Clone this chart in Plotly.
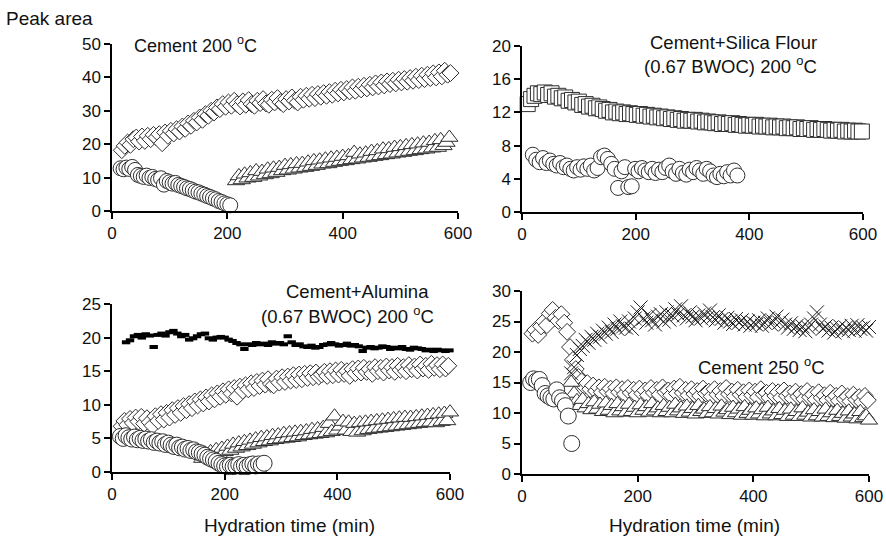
import plotly.graph_objects as go

# ---------------- data (peak areas) ----------------
# Each series: first sampling time (min), sampling interval (min), peak areas
# Panel 1: Cement 200 C
p1_dia_t0, p1_dia_dt = 17, 5
p1_dia = [18.2, 19.5, 20.5, 19.8, 21.5, 22.0, 20.8,
          22.3, 21.0, 22.5, 21.5, 22.8, 22.0, 23.0,
          20.3, 23.5, 22.5, 24.0, 23.2, 24.5, 23.8,
          25.3, 24.6, 26.2, 25.5, 27.0, 26.5, 28.0,
          27.3, 29.0, 28.5, 30.0, 29.5, 31.0, 30.5,
          32.0, 31.2, 32.5, 31.5, 33.0, 32.0, 31.3,
          32.8, 31.8, 33.2, 32.0, 31.5, 33.0, 32.3,
          33.5, 32.2, 31.8, 33.3, 32.5, 33.8, 32.6,
          32.0, 33.5, 32.8, 34.0, 33.0, 32.5, 34.2,
          33.3, 34.5, 33.6, 34.8, 33.8, 35.0, 34.2,
          35.3, 34.5, 35.6, 34.8, 36.0, 35.2, 36.3,
          35.5, 36.5, 35.8, 37.0, 36.0, 37.2, 36.4,
          37.5, 36.7, 37.8, 37.0, 38.2, 37.3, 38.5,
          37.6, 38.8, 38.0, 39.0, 38.2, 39.3, 38.5,
          39.5, 38.7, 39.8, 39.0, 40.2, 39.2, 40.5,
          39.5, 40.8, 39.8, 41.2, 40.0, 41.5, 40.3,
          42.0, 40.8, 41.3]
p1_cir_t0, p1_cir_dt = 15, 5
p1_cir = [12.8, 12.5, 13.0, 12.6, 13.2, 12.3, 10.8, 10.5, 10.2, 10.6,
          9.9, 10.2, 9.6, 9.3, 9.8, 7.9, 9.0, 8.6, 8.2, 8.4,
          7.8, 7.5, 7.2, 6.8, 6.6, 6.2, 5.8, 5.6, 5.2, 4.9,
          4.5, 4.2, 3.8, 3.5, 3.0, 2.7, 2.3, 2.0, 1.7]
p1_tri_t0, p1_tri_dt = 215, 5
p1_tri = [9.0, 10.5, 9.3, 11.0, 9.8, 11.4, 10.0, 12.0, 10.4, 11.8,
          10.8, 12.5, 11.1, 12.8, 11.5, 13.0, 12.0, 13.6, 12.2, 13.8,
          12.5, 14.1, 12.8, 14.2, 13.0, 14.6, 13.3, 15.0, 13.6, 15.2,
          14.0, 15.5, 14.1, 15.8, 14.5, 16.0, 14.8, 16.3, 15.0, 16.5,
          15.3, 17.5, 15.5, 17.0, 15.8, 17.3, 16.0, 17.8, 16.3, 18.0,
          16.5, 18.5, 16.8, 18.6, 17.0, 19.0, 17.3, 19.2, 17.5, 19.5,
          17.8, 19.8, 18.0, 20.0, 18.3, 20.3, 18.5, 20.5, 18.8, 21.0,
          19.0, 21.3, 19.5, 20.5, 22.0]

# Panel 2: Cement + Silica flour
p2_sq_t0, p2_sq_dt = 10, 6
p2_sq = [13.0, 13.6, 14.0, 14.3, 14.2, 14.4, 14.1, 14.3, 13.9, 14.0,
         13.7, 13.8, 13.4, 13.5, 13.2, 13.3, 12.9, 13.0, 12.7, 12.8,
         12.5, 12.6, 12.4, 12.2, 12.3, 12.0, 12.1, 11.9, 12.0, 11.8,
         11.9, 11.8, 11.7, 11.8, 11.6, 11.7, 11.5, 11.6, 11.4, 11.5,
         11.3, 11.4, 11.2, 11.3, 11.1, 11.2, 11.0, 11.1, 11.0, 11.1,
         10.9, 11.0, 10.8, 10.9, 10.8, 10.7, 10.8, 10.6, 10.7, 10.6,
         10.7, 10.5, 10.6, 10.5, 10.4, 10.5, 10.4, 10.5, 10.3, 10.4,
         10.3, 10.4, 10.2, 10.3, 10.2, 10.3, 10.1, 10.2, 10.1, 10.2,
         10.0, 10.1, 10.0, 10.1, 9.9, 10.0, 9.9, 10.0, 9.9, 9.8,
         9.9, 9.8, 9.9, 9.7, 9.8, 9.7, 9.8, 9.7, 9.7]
p2_cir_t0, p2_cir_dt = 19, 6
p2_cir = [6.9, 6.3, 6.0, 6.5, 5.9, 6.2, 5.8, 5.6, 5.9, 5.4,
          5.6, 5.2, 5.0, 5.4, 5.1, 5.5, 5.2, 5.6, 5.0, 5.3,
          6.6, 6.8, 6.4, 5.8, 5.2, 2.9, 4.9, 5.4, 3.0, 3.1,
          5.2, 4.9, 5.3, 5.0, 4.8, 5.2, 4.7, 5.1, 4.8, 5.3,
          5.6, 4.9, 4.6, 5.2, 4.7, 4.5, 5.1, 4.8, 5.3, 5.0,
          4.6, 5.2, 4.9, 4.4, 4.2, 4.6, 4.3, 4.8, 4.4, 5.0, 4.4]

# Panel 3: Cement + Alumina
p3_bar_t0, p3_bar_dt = 25, 7
p3_bar = [19.3, 19.6, 20.2, 20.4, 20.0, 20.5, 20.3, 18.6, 20.4, 20.6,
          20.3, 20.8, 21.0, 20.6, 20.2, 20.4, 19.7, 19.9, 20.2, 20.5,
          20.6, 19.9, 19.7, 20.0, 20.1, 20.0, 19.7, 19.5, 19.2, 19.0,
          18.3, 19.0, 18.9, 19.2, 19.0, 19.1, 18.9, 19.3, 19.1, 19.2,
          19.0, 20.2, 19.3, 18.9, 19.0, 18.7, 18.6, 18.8, 18.5, 18.6,
          18.9, 19.0, 19.2, 19.0, 18.8, 18.9, 19.1, 18.8, 18.9, 18.7,
          18.0, 18.5, 18.6, 18.4, 18.5, 18.7, 18.6, 18.3, 18.5, 18.4,
          18.6, 18.3, 18.2, 18.5, 18.4, 18.3, 18.1, 18.2, 18.0, 18.2,
          18.1, 18.0, 18.1, 17.9]
p3_dia_t0, p3_dia_dt = 17, 5
p3_dia = [6.8, 7.6, 7.0, 7.9, 7.3, 8.1, 7.5, 8.2, 7.2, 8.0,
          7.4, 6.9, 8.3, 7.6, 8.6, 7.8, 8.8, 8.1, 9.2, 8.5,
          9.5, 8.8, 9.8, 9.2, 10.1, 9.5, 10.5, 9.9, 10.8, 10.2,
          11.1, 10.5, 11.4, 10.8, 11.7, 11.2, 12.0, 11.5, 12.3, 11.7,
          12.5, 11.2, 12.7, 12.1, 12.9, 12.3, 13.2, 12.5, 13.4, 12.8,
          13.6, 13.0, 13.8, 13.1, 12.9, 13.9, 13.3, 14.1, 13.4, 14.2,
          13.6, 14.4, 13.7, 14.5, 13.8, 14.6, 14.0, 14.7, 14.1, 14.8,
          14.2, 14.5, 14.9, 14.3, 15.0, 14.4, 15.1, 14.5, 15.2, 14.6,
          15.0, 14.3, 15.3, 14.7, 15.4, 14.8, 15.5, 14.9, 15.3, 14.6,
          15.6, 15.0, 15.5, 14.8, 15.7, 15.1, 15.6, 14.9, 15.8, 15.2,
          15.6, 15.0, 15.9, 15.3, 15.7, 15.1, 16.0, 15.4, 15.8, 15.2,
          16.1, 15.5, 15.9, 15.3, 16.0, 15.4, 15.8, 15.9]
p3_tri_t0, p3_tri_dt = 160, 5
p3_tri = [2.0, 2.8, 2.2, 3.0, 2.5, 3.3, 2.7, 3.5, 3.0, 3.8,
          3.2, 4.1, 3.5, 4.3, 3.7, 4.5, 3.9, 4.7, 4.1, 4.9,
          4.3, 5.1, 4.5, 5.2, 4.6, 5.4, 4.8, 5.5, 4.9, 5.7,
          5.0, 5.8, 5.1, 5.9, 5.2, 6.0, 5.4, 6.1, 5.5, 6.3,
          5.6, 6.4, 5.7, 6.6, 5.8, 7.2, 6.0, 8.3, 6.2, 6.8,
          7.5, 6.2, 7.4, 6.0, 7.2, 5.9, 7.3, 6.1, 7.4, 6.3,
          7.5, 6.4, 7.6, 6.5, 7.7, 6.6, 7.8, 6.7, 7.9, 6.8,
          8.0, 6.9, 8.1, 7.0, 8.1, 7.1, 8.2, 7.2, 8.3, 7.3,
          8.4, 7.4, 8.5, 7.3, 8.6, 7.5, 8.7, 7.6, 8.9]
p3_cir_t0, p3_cir_dt = 15, 5
p3_cir = [5.3, 5.0, 5.4, 5.1, 4.9, 5.2, 4.8, 5.0, 4.7, 4.9,
          4.6, 4.8, 4.4, 4.6, 4.3, 4.5, 4.1, 4.3, 4.0, 3.8,
          4.0, 3.6, 3.7, 3.4, 3.5, 3.2, 3.3, 3.0, 2.9, 2.7,
          2.5, 2.2, 2.0, 1.8, 1.6, 1.3, 1.1, 0.9, 0.8, 1.0,
          0.8, 0.9, 1.1, 0.8, 1.0, 0.8, 1.1, 1.2, 0.9, 1.2,
          1.0, 1.3]

# Panel 4: Cement 250 C
p4_dia_t0, p4_dia_dt = 18, 5
p4_dia = [23.0, 23.6, 22.8, 24.2, 25.0, 24.4, 26.3, 26.9, 25.6, 25.1,
          26.2, 24.8, 23.3, 20.8, 18.7, 17.2, 15.9, 15.2, 14.4, 14.9,
          13.9, 14.5, 13.6, 14.2, 13.4, 14.3, 13.5, 14.0, 13.2, 14.2,
          13.4, 13.9, 13.1, 14.1, 13.3, 13.8, 13.0, 14.0, 13.2, 13.7,
          12.9, 14.1, 13.3, 13.8, 13.0, 14.2, 13.4, 13.7, 12.9, 14.0,
          13.2, 14.3, 13.3, 13.8, 12.9, 13.9, 13.1, 13.6, 12.8, 14.0,
          13.2, 13.5, 12.7, 13.9, 13.0, 13.6, 12.8, 14.1, 13.1, 13.5,
          12.7, 13.8, 13.0, 13.4, 12.6, 13.7, 12.9, 13.5, 12.6, 13.9,
          13.0, 13.3, 12.5, 13.6, 12.8, 13.4, 12.5, 13.7, 12.8, 13.2,
          12.4, 13.5, 12.7, 13.1, 12.3, 13.6, 12.6, 13.0, 12.2, 13.4,
          12.5, 12.9, 12.1, 13.3, 12.4, 12.8, 12.0, 13.2, 12.3, 12.7,
          11.9, 13.0, 12.2, 12.6, 11.8, 12.8, 12.1, 11.9]
p4_tri_t0, p4_tri_dt = 85, 5
p4_tri = [15.0, 13.2, 12.0, 11.2, 12.2, 10.8, 11.5, 10.5, 11.8, 10.6,
          11.4, 10.2, 11.6, 10.4, 11.2, 10.0, 11.5, 10.3, 11.0, 10.1,
          11.4, 10.2, 10.9, 10.0, 11.3, 10.4, 11.0, 10.1, 11.5, 10.3,
          10.8, 10.0, 11.2, 10.2, 10.9, 10.0, 11.4, 10.3, 10.8, 9.9,
          11.1, 10.1, 10.7, 9.8, 11.2, 10.2, 10.6, 9.9, 11.0, 10.0,
          10.7, 9.8, 11.1, 10.1, 10.5, 9.7, 10.9, 10.0, 10.6, 9.6,
          11.0, 9.9, 10.4, 9.6, 10.8, 9.8, 10.5, 9.5, 10.9, 9.8,
          10.3, 9.5, 10.7, 9.7, 10.4, 9.4, 10.6, 9.6, 10.2, 9.4,
          10.8, 9.6, 10.1, 9.3, 10.5, 9.5, 10.2, 9.3, 10.6, 9.4,
          10.0, 9.2, 10.4, 9.4, 9.9, 9.1, 10.3, 9.3, 9.8, 9.0,
          10.2, 9.2, 9.5, 8.8]
p4_cir_x = [15, 20, 25, 30, 35, 40, 45, 50, 55, 60, 65, 70, 75, 80, 86]
p4_cir = [15.0, 15.6, 15.3, 15.5, 14.5, 13.2, 12.8, 12.5, 12.3, 13.8,
          12.5, 12.0, 11.2, 9.5, 5.0]
p4_x_t0, p4_x_dt = 85, 5
p4_x = [16.5, 17.5, 19.5, 20.5, 21.0, 22.0, 21.5, 22.5, 22.0, 23.0,
        22.5, 23.5, 23.0, 24.0, 23.3, 24.5, 23.8, 25.0, 24.2, 24.0,
        25.0, 23.8, 25.5, 26.5, 27.3, 25.5, 24.8, 26.0, 25.2, 24.5,
        25.8, 26.2, 25.0, 26.5, 25.3, 26.0, 27.0, 26.2, 27.5, 26.0,
        25.5, 26.5, 25.8, 25.2, 26.0, 25.5, 26.3, 25.6, 26.8, 25.7,
        25.2, 26.0, 25.4, 24.8, 25.6, 25.0, 24.6, 25.4, 24.8, 25.2,
        24.5, 25.0, 24.3, 24.8, 24.5, 25.2, 24.3, 24.8, 25.5, 24.6,
        25.0, 25.8, 24.8, 25.3, 24.5, 24.0, 24.7, 23.8, 24.3, 23.6,
        24.2, 23.4, 24.0, 24.5, 25.5, 26.5, 24.5, 23.8, 24.2, 23.5,
        24.0, 23.2, 23.8, 24.2, 23.4, 24.0, 23.6, 24.3, 23.5, 24.4,
        23.8, 24.0, 23.5, 24.1]

x_ticks = [0, 200, 400, 600]
p1_yticks = [0, 10, 20, 30, 40, 50]
p2_yticks = [0, 4, 8, 12, 16, 20]
p3_yticks = [0, 5, 10, 15, 20, 25]
p4_yticks = [0, 5, 10, 15, 20, 25, 30]


def times(t0, dt, vals):
    return [t0 + dt * i for i in range(len(vals))]


# ---------------- figure ----------------
W, H = 886, 536
FONT = "Liberation Sans, Arial, Helvetica, sans-serif"
EDGE = "#2e2e2e"


def px(x):
    return x / W


def py(y):
    return 1 - y / H


fig = go.Figure()


def add(xs, ys, ax, symbol, size, fill="white", lw=1.0, lc=EDGE):
    fig.add_trace(go.Scatter(
        x=xs, y=ys, mode="markers", xaxis="x" + ax, yaxis="y" + ax,
        cliponaxis=False, showlegend=False, hoverinfo="x+y",
        marker=dict(symbol=symbol, size=size, color=fill,
                    line=dict(color=lc, width=lw))))


# panel 1
add(times(p1_dia_t0, p1_dia_dt, p1_dia), p1_dia, "", "diamond", 13)
add(times(p1_cir_t0, p1_cir_dt, p1_cir), p1_cir, "", "circle", 15)
add(times(p1_tri_t0, p1_tri_dt, p1_tri), p1_tri, "", "triangle-up", 15)
# panel 2
add(times(p2_sq_t0, p2_sq_dt, p2_sq), p2_sq, "2", "square", 15)
add(times(p2_cir_t0, p2_cir_dt, p2_cir), p2_cir, "2", "circle", 15)
# panel 3
fig.add_trace(go.Scatter(
    x=times(p3_bar_t0, p3_bar_dt, p3_bar), y=p3_bar, mode="markers",
    xaxis="x3", yaxis="y3", cliponaxis=False, showlegend=False,
    marker=dict(symbol="line-ew-open", size=6, color="black",
                line=dict(color="black", width=4))))
add(times(p3_dia_t0, p3_dia_dt, p3_dia), p3_dia, "3", "diamond", 13)
add(times(p3_tri_t0, p3_tri_dt, p3_tri), p3_tri, "3", "triangle-up", 15)
add(times(p3_cir_t0, p3_cir_dt, p3_cir), p3_cir, "3", "circle", 16)
# panel 4
add(times(p4_dia_t0, p4_dia_dt, p4_dia), p4_dia, "4", "diamond", 13)
add(times(p4_tri_t0, p4_tri_dt, p4_tri), p4_tri, "4", "triangle-up", 15)
add(p4_cir_x, p4_cir, "4", "circle", 16)
fig.add_trace(go.Scatter(
    x=times(p4_x_t0, p4_x_dt, p4_x), y=p4_x, mode="markers",
    xaxis="x4", yaxis="y4", cliponaxis=False, showlegend=False,
    marker=dict(symbol="x-thin-open", size=14, color="#1e1e1e",
                line=dict(color="#1e1e1e", width=1))))

axcommon = dict(showgrid=False, zeroline=False, showline=True,
                linecolor="black", linewidth=1.5, ticks="outside",
                ticklen=6, tickwidth=1.5, tickcolor="black",
                tickfont=dict(family=FONT, size=17, color="#111"))

doms = {
    "": ((112, 458), (44, 211), [0, 50], p1_yticks),
    "2": ((522, 863), (46, 212), [0, 20], p2_yticks),
    "3": ((112, 450), (304, 472), [0, 25], p3_yticks),
    "4": ((522, 869), (291, 474), [0, 30], p4_yticks),
}
layout = {}
for k, ((x0, x1), (y0, y1), yr, yt) in doms.items():
    layout["xaxis" + k] = dict(axcommon, domain=[px(x0), px(x1)],
                               range=[0, 600], tickvals=x_ticks,
                               anchor="y" + k)
    layout["yaxis" + k] = dict(axcommon, domain=[py(y1), py(y0)],
                               range=yr, tickvals=yt, anchor="x" + k)

fig.update_layout(
    autosize=True, margin=dict(l=0, r=0, t=0, b=0, autoexpand=False),
    paper_bgcolor="white", plot_bgcolor="white",
    font=dict(family=FONT, color="#111"), **layout)


def note(text, x, y, xanchor="left", size=18):
    fig.add_annotation(text=text, x=px(x), y=py(y), xref="paper",
                       yref="paper", xanchor=xanchor, yanchor="middle",
                       showarrow=False, font=dict(family=FONT, size=size,
                                                  color="#111"))


note("Peak area", 4, 18, size=19)
note("Cement 200 <sup>o</sup>C", 132, 44)
note("Cement+Silica Flour", 819, 42, "right", 18.5)
note("(0.67 BWOC) 200 <sup>o</sup>C", 819, 65, "right", 18.5)
note("Cement+Alumina", 431, 291, "right", 18.5)
note("(0.67 BWOC) 200 <sup>o</sup>C", 436, 315, "right", 18.5)
note("Cement 250 <sup>o</sup>C", 696, 366, "left", 18.5)
note("Hydration time (min)", 289, 525, "center", 19)
note("Hydration time (min)", 694, 525, "center", 19)

fig.write_html(
    "out.html",
    config={"displayModeBar": False, "responsive": True},
    default_width="100vw", default_height="100vh",
    post_script="document.body.style.margin='0';"
                "document.body.style.overflow='hidden';"
                "Plotly.Plots.resize(document.getElementById('{plot_id}'));")
